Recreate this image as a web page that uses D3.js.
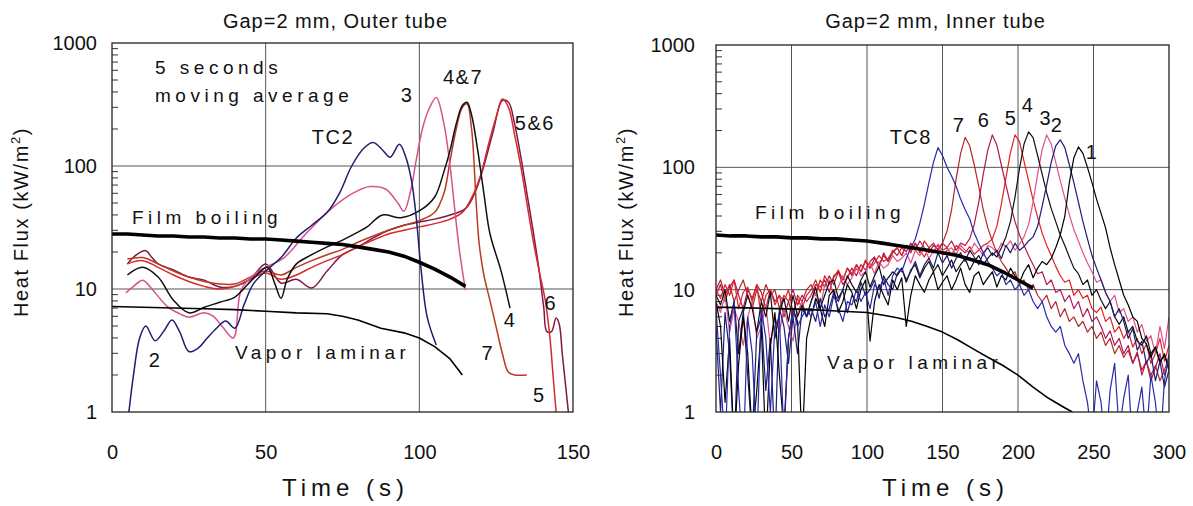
<!DOCTYPE html>
<html>
<head>
<meta charset="utf-8">
<title>Heat flux, Gap=2 mm</title>
<script src="https://d3js.org/d3.v7.min.js"></script>
<style>
  body { margin: 0; background: #fff; }
  svg text { font-family: "Liberation Sans", Arial, Helvetica, sans-serif; fill: #111; }
</style>
</head>
<body>
<svg id="chart" width="1193" height="506"></svg>
<script>
// --- 1. Dados ---
const titleOuter = "Gap=2 mm, Outer tube";
const titleInner = "Gap=2 mm, Inner tube";
const yTicks = [1, 10, 100, 1000];
const outerTicks = [0, 50, 100, 150];
const innerTicks = [0, 50, 100, 150, 200, 250, 300];

// Outer tube (5 s moving average)
const tc2OutT = [5.5, 7, 9, 11, 14, 17, 19.5, 22, 25, 28, 31, 34, 37, 40, 43, 46, 50, 55, 60, 65, 70, 74, 78, 82, 85, 88, 90.5, 93.5, 95.5, 97.5, 99, 100.5, 102.5, 105.5];
const tc2OutV = [1, 2, 4, 5, 3.8, 4.6, 5.6, 4.5, 3.1, 3.3, 4, 4.8, 5.5, 4.8, 7.5, 11, 14, 18, 26, 33, 42, 60, 100, 140, 155, 135, 118, 150, 120, 75, 38, 15, 6, 3.5];
const tc3OutT = [4.5, 7, 10, 13, 18, 22, 25, 30, 33, 36, 39.5, 42, 46, 50, 56, 63, 70, 75, 80, 84, 89, 93, 95, 97, 99, 101, 103, 105.5, 108, 110, 111.5, 113, 115];
const tc3OutV = [9.3, 10.5, 11.8, 10, 7.2, 6.3, 5.9, 6.4, 6, 4.9, 4, 9.8, 13, 15, 18, 28, 42, 53, 63, 68, 65, 50, 43, 60, 112, 200, 285, 360, 220, 100, 45, 21, 9.8];
const tc4OutT = [5, 10, 15, 20, 25, 30, 35, 40, 45.5, 50.5, 53, 55, 57, 60, 65, 70, 75, 80, 83, 88, 94, 100.5, 105, 108, 110, 112, 114, 115.5, 117, 119, 121, 123, 126.5, 129.5];
const tc4OutV = [13, 15, 12.5, 8.1, 6.4, 7.1, 7.8, 8.6, 11.8, 15, 11, 8.4, 12, 16, 19, 22, 25, 29, 32, 40, 38, 44, 56, 90, 134, 220, 310, 330, 260, 134, 60, 28, 14.3, 7];
const tc5OutT = [5, 10, 15, 20, 25, 30, 35, 40, 45, 50, 55, 60, 65, 70, 75, 80, 85, 90, 95, 100, 105, 110, 114, 117, 120, 122.5, 125, 127, 129, 131, 133, 135, 137, 139, 141, 142.5, 143.5, 144.5];
const tc5OutV = [16, 17, 15, 13, 11.5, 10.5, 10, 10.5, 12, 13.5, 12, 13, 15, 17, 19, 22, 25, 28, 30, 32, 34, 37, 42, 55, 85, 150, 250, 350, 300, 180, 100, 50, 25, 14, 8, 4, 2, 1];
const tc6OutT = [5, 8, 11, 13, 15, 20, 25, 30, 35, 40, 45, 50, 55, 60, 65, 70, 75, 80, 85, 90, 95, 100, 105, 110, 115, 118, 121, 124, 127, 129, 131, 133, 135, 137, 139, 140.5, 141.5, 143, 144.5, 145.5, 146.5, 148.5];
const tc6OutV = [16, 19, 20.5, 18, 16, 14.3, 12.5, 11.8, 10.4, 10.5, 12, 16, 11.2, 12, 10.2, 14, 19, 22, 26, 30, 33, 35, 37, 40, 45, 60, 100, 190, 340, 330, 220, 120, 60, 30, 14, 7, 4.5, 4.5, 5.8, 5.2, 3, 1];
const tc7OutT = [5, 10, 15, 20, 25, 30, 35, 40, 45, 50, 55, 60, 65, 70, 75, 80, 85, 90, 95, 100, 105, 108, 110, 112, 114, 115.5, 117, 118.5, 119.5, 121, 123, 125, 127, 129, 131, 135];
const tc7OutV = [17.5, 18, 16, 14, 12.5, 11.5, 11, 11, 12.5, 14, 13, 15, 17, 19, 21, 24, 27, 30, 33, 36, 42, 60, 110, 200, 300, 320, 200, 50, 23, 13, 8, 4.9, 3, 2.1, 2, 2];
const filmOutT = [0, 5, 10, 15, 20, 25, 30, 35, 40, 45, 50, 55, 60, 65, 70, 75, 80, 85, 90, 95, 100, 105, 110, 115];
const filmOutV = [28, 28, 27.5, 27, 27, 26.5, 26.5, 26, 26, 25.5, 25.5, 25, 24.5, 24, 23.5, 23, 22, 21, 20, 18.5, 16.5, 14.5, 12.5, 10.5];
const lamOutT = [0, 10, 20, 30, 40, 50, 60, 70, 75, 80, 87.5, 95, 100, 105, 110, 114];
const lamOutV = [7.2, 7.1, 7.0, 6.9, 6.8, 6.6, 6.4, 6.3, 6.0, 5.6, 4.8, 4.4, 4.0, 3.4, 2.7, 2.0];

// Inner tube (raw signal, one sample every 3 s)
const innerTime = d3.range(0, 301, 3);
const tc1In = [8, 5, 1.2, 4, 0.5, 2.5, 6, 3, 0.6, 1.5, 5, 0.5, 3.5, 6.5, 2, 0.7, 4, 7, 5.5, 0.5, 4,
  6, 8.5, 7, 5, 9, 10, 6.5, 8, 11, 9.5, 7, 10, 12, 3.8, 8, 11, 9, 7.5, 12, 10,
  12.5, 5, 9, 13, 11, 9.5, 12, 14, 10, 11.5, 13, 10, 12, 15, 11, 9.5, 13, 14, 11, 12.5,
  14, 10.5, 13, 12, 15, 13, 11.5, 14, 16, 12.5, 15, 17,
  16, 18, 22, 28, 40, 75, 120, 147, 130, 100, 75, 55, 42, 32, 22,
  16, 12, 9, 7.5, 6, 5.5, 4, 3.6, 2.8, 3.4, 2.6, 2.9, 2.3];
const tc2In = [5, 1, 6.5, 3, 0.5, 5.5, 7, 2, 0.6, 4.5, 6, 1.5, 4, 0.5, 7, 5, 2.5, 6, 3, 7, 6,
  7, 5.5, 8.5, 6, 7, 9.5, 8, 10, 6.5, 9, 8, 11.5, 9, 10, 12, 8.5, 13, 11, 10, 13.5,
  15, 12, 14, 17, 13, 16, 18, 15, 20, 16.5, 19, 15, 18, 20, 17, 21, 18.5, 16, 20, 22,
  19, 21, 18, 23, 20, 24, 21, 22.5, 25,
  27, 33, 48, 72, 110, 150, 168, 145, 105, 75, 52, 36, 26, 19, 15,
  12, 9.5, 8, 6, 7, 5.5, 4, 4.8, 3.2, 3.8, 2.5, 3, 1.8, 2.6, 1.6, 2.2];
const tc3In = [8, 6.5, 9, 4.5, 7, 5.5, 3.5, 6, 8, 4, 5, 7.5, 3.5, 6, 4.5, 7, 5, 3.8, 6.5, 8, 6,
  8, 9.5, 7, 11, 12, 9, 10.5, 13, 11, 12.5, 15, 13, 14, 16.5, 13.5, 17, 15, 16, 19, 17,
  18, 20, 16.5, 21, 19, 22, 18, 20.5, 23, 19, 21, 22, 19.5, 23, 21, 20, 24, 21.5, 19, 23,
  22, 20, 24, 22.5, 25, 21, 23.5,
  27, 34, 52, 88, 140, 184, 155, 110, 78, 56, 41, 31, 25, 20, 16.5,
  14, 11.5, 12, 9.5, 8, 9, 6.5, 7, 5.5, 6, 4.5, 5.2, 3.8, 4.2, 3, 5, 3.3, 6];
const tc4In = [9, 7.5, 10, 5.5, 8, 3, 6.5, 9, 7, 4.5, 8, 6, 9.5, 4, 6.5, 8.5, 5.5, 9, 6, 7.5, 6,
  8, 10.5, 7, 9, 11.5, 12, 8.5, 10, 13, 11, 9.5, 12, 14, 10.5, 13, 15.5, 11, 12.5, 14, 13,
  15, 11.5, 14.5, 16, 12.5, 15, 17, 14, 16, 13, 15, 17.5, 14, 16, 18, 14.5, 17, 19, 16, 18,
  20, 18.5, 22,
  27, 36, 57, 98, 155, 195, 175, 125, 88, 62, 46, 36, 28, 23, 18.5,
  15, 13.5, 11, 12, 9, 10, 8.2, 7, 8, 6, 5.2, 6, 4.5, 5, 3.8, 3.5, 4.2, 3, 3.4, 2.5, 3, 2.2];
const tc5In = [10, 8.5, 11, 9, 12, 7, 9.5, 10.5, 8, 11, 6, 9, 10, 7.5, 9, 8, 10, 6.5, 8.5, 7, 9,
  10, 12, 9.5, 13, 11, 12.5, 14.5, 12, 15, 13.5, 16, 14, 17.5, 15, 16.5, 19, 17, 18, 20.5, 22,
  19, 23, 20, 24, 21, 18.5, 22, 20, 23.5, 21, 22, 19, 23, 21.5, 20, 22.5, 19.5, 21, 23, 24,
  26, 33, 50, 82, 132, 184, 162, 112, 78, 54, 39, 29, 23, 19, 15.5,
  13, 11.5, 12, 9, 10, 8.5, 9, 7, 6.5, 7.2, 5.5, 6, 4.5, 5, 4, 4.6, 3.4, 4, 3, 3.6, 2.5, 3, 4, 2.6, 3.5];
const tc6In = [9, 11, 8, 10.5, 12, 9, 7, 10, 8.5, 11, 9.5, 7, 10, 8, 9, 6, 8, 10, 7.5, 9, 8,
  9, 11, 10.5, 12, 9.5, 13, 14, 11, 12.5, 15, 13, 16, 14.5, 17, 18.5, 15, 20, 17, 21, 19,
  22, 20.5, 24, 21, 25, 22, 20, 23, 21.5, 24, 22, 25, 21, 24, 23,
  26, 34, 52, 88, 138, 184, 152, 104, 72, 50, 36, 28, 23, 19, 16,
  13.5, 14, 11, 12, 9.5, 10, 8, 9, 7, 8, 6, 7, 5.5, 6, 5, 4, 4.6, 3.5, 4, 3, 3.5, 2.5, 3.1, 2, 2.6,
  1.8, 2.3, 3, 2, 2.6];
const tc7In = [10, 12, 9, 11, 8, 10, 12, 9, 7, 10, 8, 11, 9, 10, 7, 9, 8, 6, 9, 8, 10,
  11, 9, 12, 10.5, 13, 11, 14, 12, 15, 13, 16, 14, 17, 15, 18, 16, 19, 17, 20, 22,
  19, 23, 21, 24, 20, 25, 22, 24, 21,
  24, 30, 45, 80, 130, 176, 150, 105, 70, 45, 32, 25, 20, 17, 15,
  13, 14, 11, 12, 10, 11, 9, 8, 9, 7, 8, 6, 7, 5.5, 6, 5, 5.5, 4.5, 5, 4, 4.5, 3.5, 4, 3, 3.5, 2.8, 3.2, 2.5, 3, 2.2,
  2.6, 2, 2.4, 1.8, 2.2, 2.8];
const tc8In = [7, 2, 0.5, 5, 8, 1.5, 0.4, 6, 3, 0.5, 7, 4, 1, 5, 6, 0.6, 4, 7, 5, 6, 7,
  6, 8, 5, 7.5, 6, 9, 7, 5.5, 8, 7.5, 10, 8, 9.5, 7, 11, 10, 12.5, 9, 13, 15, 14, 18, 22,
  26, 35, 50, 75, 110, 145, 125, 100, 85, 70, 55, 45, 38, 29, 24,
  20, 17, 15, 13, 14, 11, 12, 10, 11, 9, 10, 8, 7, 8, 6, 5, 4.5, 5, 3.5, 3, 2.5, 3, 1.8, 1.2, 0.6, 1.8, 1.2, 0.5,
  1.5, 2.5, 0.7, 1.3, 2, 0.5, 1, 1.6, 0.6, 2, 1.2, 0.5, 1.8, 3];
const filmInT = [0, 10, 20, 30, 40, 50, 60, 70, 80, 90, 100, 110, 120, 130, 140, 150, 160, 170, 180, 190, 200, 210];
const filmInV = [28, 27.5, 27.5, 27, 27, 26.5, 26.5, 26, 26, 25.5, 25, 24, 23, 22, 21, 20, 19, 17.5, 16, 14, 12, 10.3];
const lamInT = [0, 20, 40, 60, 80, 100, 110, 120, 130, 140, 150, 160, 170, 180, 190, 200, 210, 220, 230, 236];
const lamInV = [7.2, 7.1, 7.0, 6.9, 6.7, 6.5, 6.2, 5.9, 5.5, 5.0, 4.5, 3.9, 3.3, 2.8, 2.4, 2.0, 1.6, 1.3, 1.1, 1.0];

// Anotações (coordenadas de dados: tempo, fluxo)
const outerNotes = [
  { s: "5 seconds", t: 14, v: 560, a: "start", w: true },
  { s: "moving average", t: 14, v: 331, a: "start", w: true },
  { s: "TC2", t: 71.9, v: 151, a: "middle" },
  { s: "3", t: 96, v: 331, a: "middle" },
  { s: "4&7", t: 114.2, v: 464, a: "middle" },
  { s: "5&6", t: 137.6, v: 196, a: "middle" },
  { s: "Film boiling", t: 6.5, v: 33.8, a: "start", w: true },
  { s: "2", t: 14, v: 2.32, a: "middle" },
  { s: "Vapor laminar", t: 40, v: 2.7, a: "start", w: true },
  { s: "4", t: 129.5, v: 4.91, a: "middle" },
  { s: "7", t: 122.3, v: 2.65, a: "middle" },
  { s: "5", t: 139, v: 1.21, a: "middle" },
  { s: "6", t: 142.8, v: 6.75, a: "middle" }
];
const innerNotes = [
  { s: "TC8", t: 129, v: 155, a: "middle" },
  { s: "7", t: 161, v: 195, a: "middle" },
  { s: "6", t: 177.5, v: 214, a: "middle" },
  { s: "5", t: 195.4, v: 222, a: "middle" },
  { s: "4", t: 206.6, v: 284, a: "middle" },
  { s: "3", t: 218.5, v: 222, a: "middle" },
  { s: "2", t: 225.8, v: 195, a: "middle" },
  { s: "1", t: 249, v: 117, a: "middle" },
  { s: "Film boiling", t: 25.8, v: 37.9, a: "start", w: true },
  { s: "Vapor laminar", t: 73.5, v: 2.25, a: "start", w: true }
];

(function() {
  const svg = d3.select("#chart");

  const panels = [
    { id: "outer", x0: 112, x1: 573, y0: 43, y1: 412, xmax: 150, xticks: outerTicks, title: titleOuter, labPad: 15, ycx: 21 },
    { id: "inner", x0: 716, x1: 1169, y0: 45, y1: 412, xmax: 300, xticks: innerTicks, title: titleInner, labPad: 21, ycx: 626 }
  ];

  function drawPanel(p) {
    const x = d3.scaleLinear().domain([0, p.xmax]).range([p.x0, p.x1]);
    const y = d3.scaleLog().domain([1, 1000]).range([p.y1, p.y0]);
    const g = svg.append("g");

    // grelha
    g.selectAll(".hg").data([10, 100]).enter().append("line")
      .attr("x1", p.x0).attr("x2", p.x1)
      .attr("y1", d => y(d)).attr("y2", d => y(d))
      .attr("stroke", "#555").attr("stroke-width", 1);
    g.selectAll(".vg").data(p.xticks.slice(1, -1)).enter().append("line")
      .attr("x1", d => x(d)).attr("x2", d => x(d))
      .attr("y1", p.y0).attr("y2", p.y1)
      .attr("stroke", "#555").attr("stroke-width", 1);

    // ticks menores (para dentro)
    const minors = [];
    [1, 10, 100].forEach(dec => d3.range(2, 10).forEach(m => minors.push(dec * m)));
    g.selectAll(".mt").data(minors).enter().append("line")
      .attr("x1", p.x0).attr("x2", p.x0 + 6)
      .attr("y1", d => y(d)).attr("y2", d => y(d))
      .attr("stroke", "#333").attr("stroke-width", 1);

    // eixos
    g.append("g").attr("transform", `translate(${p.x0},0)`)
      .call(d3.axisLeft(y).tickValues(yTicks).tickFormat(d3.format("d")).tickSize(0).tickPadding(p.labPad))
      .call(a => a.select(".domain").remove())
      .attr("font-size", 20).attr("font-family", null);
    g.append("g").attr("transform", `translate(0,${p.y1})`)
      .call(d3.axisBottom(x).tickValues(p.xticks).tickSize(0).tickPadding(33))
      .call(a => a.select(".domain").remove())
      .attr("font-size", 20).attr("font-family", null);

    // títulos
    g.append("text").attr("x", (p.x0 + p.x1) / 2 - 7).attr("y", 28)
      .attr("text-anchor", "middle").attr("font-size", 20)
      .style("letter-spacing", "1px").text(p.title);
    g.append("text").attr("x", (p.x0 + p.x1) / 2 + 3).attr("y", 496)
      .attr("text-anchor", "middle").attr("font-size", 24)
      .style("letter-spacing", "5px").text("Time (s)");
    const yt = g.append("text")
      .attr("transform", `translate(${p.ycx},222) rotate(-90)`)
      .attr("text-anchor", "middle").attr("dy", "0.35em")
      .attr("font-size", 20).style("letter-spacing", "1.6px");
    yt.append("tspan").text("Heat Flux (kW/m");
    yt.append("tspan").attr("dy", -8).attr("font-size", 13).text("2");
    yt.append("tspan").attr("dy", 8).text(")");

    // recorte
    svg.append("clipPath").attr("id", "clip-" + p.id)
      .append("rect").attr("x", p.x0).attr("y", p.y0)
      .attr("width", p.x1 - p.x0).attr("height", p.y1 - p.y0);
    const plot = g.append("g").attr("clip-path", `url(#clip-${p.id})`);

    return { g, plot, x, y };
  }

  const [L, R] = panels.map(drawPanel);

  function addSeries(P, ts, vs, color, width, curve) {
    const pts = ts.map((t, i) => [t, vs[i]]);
    const line = d3.line()
      .x(d => P.x(d[0]))
      .y(d => P.y(Math.max(d[1], 0.3)))
      .curve(curve || d3.curveLinear);
    P.plot.append("path").datum(pts)
      .attr("d", line)
      .attr("fill", "none")
      .attr("stroke", color)
      .attr("stroke-width", width)
      .attr("stroke-linejoin", "round");
  }

  // --- Painel esquerdo ---
  const smooth = d3.curveCatmullRom.alpha(0.5);
  addSeries(L, tc6OutT, tc6OutV, "#7e1848", 1.5, smooth);
  addSeries(L, tc5OutT, tc5OutV, "#d42a2a", 1.5, smooth);
  addSeries(L, tc7OutT, tc7OutV, "#b83a22", 1.5, smooth);
  addSeries(L, tc3OutT, tc3OutV, "#d9508e", 1.5, smooth);
  addSeries(L, tc4OutT, tc4OutV, "#111111", 1.5, smooth);
  addSeries(L, tc2OutT, tc2OutV, "#1e1e6e", 1.5, smooth);
  addSeries(L, filmOutT, filmOutV, "#000", 3.6);
  addSeries(L, lamOutT, lamOutV, "#000", 1.6);

  // --- Painel direito ---
  addSeries(R, innerTime, tc7In, "#b02828", 1.2);
  addSeries(R, innerTime, tc6In, "#b01858", 1.2);
  addSeries(R, innerTime, tc5In, "#e02020", 1.2);
  addSeries(R, innerTime, tc3In, "#e0508a", 1.2);
  addSeries(R, innerTime, tc4In, "#111111", 1.2);
  addSeries(R, innerTime, tc2In, "#1c1c70", 1.2);
  addSeries(R, innerTime, tc1In, "#000000", 1.2);
  addSeries(R, innerTime, tc8In, "#2a2aa8", 1.2);
  addSeries(R, filmInT, filmInV, "#000", 3.6);
  addSeries(R, lamInT, lamInV, "#000", 1.6);

  // moldura + anotações
  [[L, panels[0], outerNotes], [R, panels[1], innerNotes]].forEach(([P, p, notes]) => {
    P.g.append("rect").attr("x", p.x0).attr("y", p.y0)
      .attr("width", p.x1 - p.x0).attr("height", p.y1 - p.y0)
      .attr("fill", "none").attr("stroke", "#222").attr("stroke-width", 1.3);
    P.g.selectAll(".note").data(notes).enter().append("text")
      .attr("x", d => P.x(d.t)).attr("y", d => P.y(d.v))
      .attr("text-anchor", d => d.a)
      .attr("font-size", d => d.w ? 19 : 20)
      .style("letter-spacing", d => d.w ? "4.5px" : "1.5px")
      .text(d => d.s);
  });
})();
</script>
</body>
</html>
